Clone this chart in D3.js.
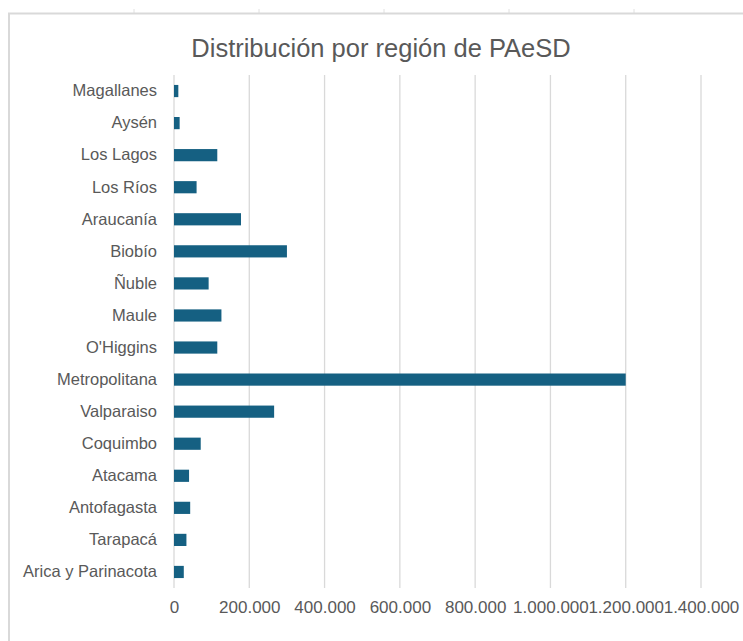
<!DOCTYPE html>
<html><head><meta charset="utf-8">
<script src="https://cdn.jsdelivr.net/npm/d3@7"></script>
<style>body{margin:0;background:#fff}svg{display:block}</style>
</head><body>
<script>
const categories = ["Magallanes","Aysén","Los Lagos","Los Ríos","Araucanía","Biobío","Ñuble","Maule","O'Higgins","Metropolitana","Valparaiso","Coquimbo","Atacama","Antofagasta","Tarapacá","Arica y Parinacota"];
const values = [11500,15000,115000,60000,178000,300000,92000,126000,115000,1200000,266000,71000,40000,43000,33000,26000];
const tickValues = [0,200000,400000,600000,800000,1000000,1200000,1400000];
const tickLabels = ["0","200.000","400.000","600.000","800.000","1.000.000","1.200.000","1.400.000"];
const title = "Distribución por región de PAeSD";

const W=743,H=641;
const font = "'Liberation Sans',Arial,sans-serif";
const svg = d3.select("body").append("svg").attr("width",W).attr("height",H);

// background spreadsheet cell lines above the chart
const cellX = [134,259,384,509,634];
svg.selectAll("line.cell").data(cellX).enter().append("line")
  .attr("x1",d=>d).attr("x2",d=>d).attr("y1",9).attr("y2",13)
  .attr("stroke","#e0e0e0").attr("stroke-width",1);

// chart border
svg.append("rect").attr("x",9).attr("y",13.5).attr("width",W+20).attr("height",H+20)
  .attr("fill","#fff").attr("stroke","#d9d9d9").attr("stroke-width",2);

const x = d3.scaleLinear().domain([0,1400000]).range([174,701]);
const y = d3.scaleBand().domain(categories).range([75,588]).paddingInner(0.62).paddingOuter(0.31);

// gridlines
svg.append("g").selectAll("line").data(tickValues).enter().append("line")
  .attr("x1",d=>x(d)).attr("x2",d=>x(d)).attr("y1",75).attr("y2",588)
  .attr("stroke","#d9d9d9").attr("stroke-width",1.3);

// bars
svg.append("g").selectAll("rect").data(values).enter().append("rect")
  .attr("x",x(0)).attr("y",(d,i)=>y(categories[i]))
  .attr("width",d=>x(d)-x(0)).attr("height",y.bandwidth())
  .attr("fill","#156082");

// y axis labels
const yAxis = d3.axisLeft(y).tickSize(0).tickPadding(17);
const gy = svg.append("g").attr("transform",`translate(${x(0)},0)`).call(yAxis);
gy.select(".domain").remove();
gy.selectAll("text").attr("fill","#595959").style("font-family",font).style("font-size","16.5px");

// x axis labels
const xAxis = d3.axisBottom(x).tickValues(tickValues).tickFormat((d,i)=>tickLabels[i]).tickSize(0).tickPadding(13);
const gx = svg.append("g").attr("transform",`translate(0,588)`).call(xAxis);
gx.select(".domain").remove();
gx.selectAll("text").attr("fill","#595959").style("font-family",font).style("font-size","17px");

// title
svg.append("text").attr("x",381).attr("y",57).attr("text-anchor","middle")
  .attr("fill","#595959").style("font-family",font).style("font-size","25.5px").text(title);
</script>
</body></html>
